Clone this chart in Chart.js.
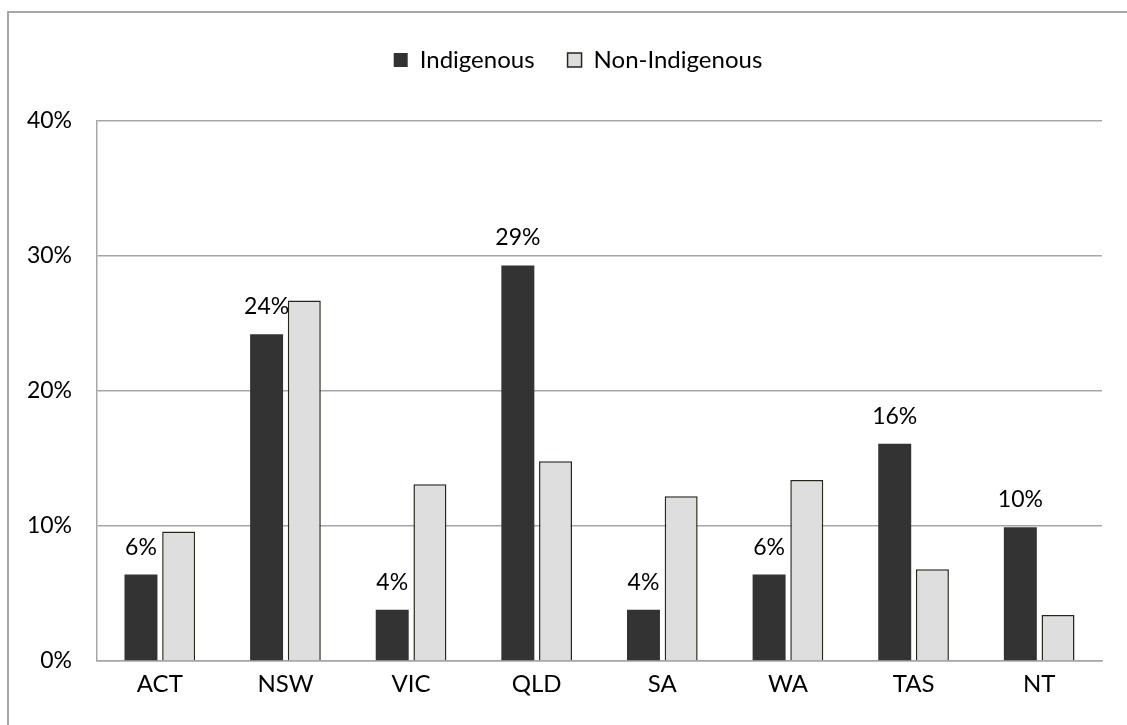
<!DOCTYPE html>
<html>
<head>
<meta charset="utf-8">
<script src="https://cdn.jsdelivr.net/npm/chart.js@4/dist/chart.umd.min.js"></script>
<style>
    body { margin: 0; background: #fff; }
    #wrap { position: relative; width: 1127px; height: 725px; overflow: hidden; }
    #frame { position: absolute; left: 7px; top: 11px; width: 1200px; height: 800px;
             border-top: 2px solid #a6a6a6; border-left: 2px solid #a6a6a6; }
    canvas { position: absolute; left: 0; top: 0; }
</style>
</head>
<body>
<div id="wrap">
    <div id="frame"></div>
    <canvas id="chart" width="1127" height="725"></canvas>
</div>
<script>
const categories = ['ACT', 'NSW', 'VIC', 'QLD', 'SA', 'WA', 'TAS', 'NT'];
const indigenous = [6.4, 24.2, 3.8, 29.3, 3.8, 6.4, 16.1, 9.9];
const nonIndigenous = [9.6, 26.7, 13.1, 14.8, 12.2, 13.4, 6.8, 3.4];
const yTicks = [0, 10, 20, 30, 40];

const FONT = 'Lato';
const FONT_SIZE = 23;
const TEXT_SIZE = 24;

// labels above the Indigenous bars only
const barLabels = {
    id: 'barLabels',
    afterDatasetsDraw(chart) {
        const ctx = chart.ctx;
        const meta = chart.getDatasetMeta(0);
        ctx.save();
        ctx.font = FONT_SIZE + 'px ' + FONT;
        ctx.fillStyle = '#000';
        ctx.textAlign = 'center';
        ctx.textBaseline = 'alphabetic';
        meta.data.forEach((bar, i) => {
            ctx.fillText(Math.round(indigenous[i]) + '%', bar.x, bar.y - 20);
        });
        ctx.restore();
    }
};

// keep the legend band a fixed height, and nudge it right like the original
const legendSpace = {
    id: 'legendSpace',
    beforeInit(chart) {
        const fit = chart.legend.fit;
        chart.legend.fit = function () {
            fit.call(this);
            this.height = 106;
        };
    },
    afterLayout(chart) {
        chart.legend.left += 23;
        chart.legend.right += 23;
    }
};

const ctx = document.getElementById('chart').getContext('2d');
const chart = new Chart(ctx, {
    type: 'bar',
    data: {
        labels: categories,
        datasets: [{
            label: 'Indigenous',
            data: indigenous,
            backgroundColor: '#333333',
            borderColor: '#333333',
            borderWidth: 0
        }, {
            label: 'Non-Indigenous',
            data: nonIndigenous,
            backgroundColor: '#dedede',
            borderColor: '#26261a',
            borderWidth: 1.5
        }]
    },
    options: {
        responsive: false,
        animation: false,
        layout: {
            padding: { top: 15, left: 8, right: 25, bottom: 0 }
        },
        datasets: {
            bar: {
                categoryPercentage: 0.6,
                barPercentage: 0.875
            }
        },
        plugins: {
            legend: {
                position: 'top',
                labels: {
                    boxWidth: 14,
                    boxHeight: 14,
                    padding: 33,
                    color: '#000',
                    font: { family: FONT, size: TEXT_SIZE }
                }
            },
            tooltip: { enabled: false }
        },
        scales: {
            x: {
                grid: { display: false, drawTicks: false },
                border: { display: true, color: '#a6a6a6', width: 1.5 },
                ticks: {
                    padding: 9,
                    color: '#000',
                    font: { family: FONT, size: TEXT_SIZE }
                },
                afterFit: (scale) => { scale.height = 64; }
            },
            y: {
                min: yTicks[0],
                max: yTicks[yTicks.length - 1],
                afterBuildTicks: (scale) => { scale.ticks = yTicks.map(v => ({ value: v })); },
                grid: { color: '#a6a6a6', lineWidth: 1.5, drawTicks: false },
                border: { display: true, color: '#a6a6a6', width: 1.5 },
                ticks: {
                    padding: 25,
                    color: '#000',
                    font: { family: FONT, size: FONT_SIZE },
                    callback: (v) => v + '%'
                },
                afterFit: (scale) => { scale.width = 89; }
            }
        }
    },
    plugins: [legendSpace, barLabels]
});
</script>
</body>
</html>
